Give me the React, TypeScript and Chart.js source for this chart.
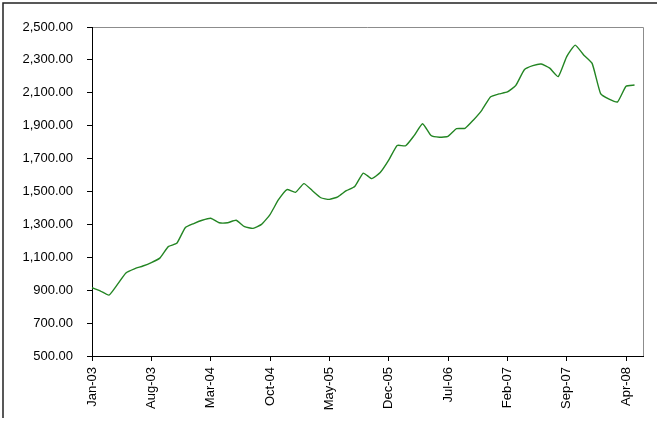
import React, { useEffect, useRef } from "react";
import { Chart, registerables } from "chart.js";

Chart.register(...registerables);

const MONTHS = ["Jan", "Feb", "Mar", "Apr", "May", "Jun", "Jul", "Aug", "Sep", "Oct", "Nov", "Dec"];
const YEARS = ["03", "04", "05", "06", "07", "08"];

// Month categories Jan-03 .. Jun-08 (axis extends one month past the data)
const categories: string[] = [];
YEARS.forEach((y) => MONTHS.forEach((m) => categories.push(`${m}-${y}`)));
const labels = categories.slice(0, 66);

// Monthly values Jan-03 .. May-08
const values: number[] = [
  915, 895, 870, 935, 1005, 1030, 1047, 1068, 1095, 1165, 1185, 1280,
  1305, 1325, 1337, 1310, 1310, 1325, 1286, 1276, 1300, 1360, 1450, 1512,
  1495, 1548, 1505, 1462, 1452, 1468, 1505, 1530, 1612, 1578, 1615, 1690,
  1780, 1778, 1840, 1912, 1840, 1830, 1835, 1882, 1884, 1935, 1995, 2075,
  2093, 2105, 2145, 2240, 2265, 2275, 2250, 2198, 2320, 2390, 2330, 2279,
  2095, 2062, 2045, 2140, 2147,
];

const yMin = 500;
const yMax = 2500;
const yStep = 200;
const labelEvery = 7;

const FONT = { family: "'Liberation Sans', Arial, sans-serif", size: 13 };

const framePlugin = {
  id: "frame",
  beforeDraw(chart: any) {
    const { ctx, width, height, chartArea } = chart;
    ctx.save();
    ctx.fillStyle = "#ffffff";
    ctx.fillRect(0, 0, width, height);
    // outer frame (top + left)
    ctx.strokeStyle = "#222222";
    ctx.lineWidth = 1.5;
    ctx.beginPath();
    ctx.moveTo(3, 418);
    ctx.lineTo(3, 3);
    ctx.lineTo(width, 3);
    ctx.stroke();
    // plot area frame (top + right), grey
    ctx.strokeStyle = "#8c8c8c";
    ctx.lineWidth = 1;
    ctx.beginPath();
    ctx.moveTo(chartArea.left, chartArea.top + 0.5);
    ctx.lineTo(chartArea.right + 0.5, chartArea.top + 0.5);
    ctx.lineTo(chartArea.right + 0.5, chartArea.bottom);
    ctx.stroke();
    ctx.restore();
  },
};

export default function App() {
  const ref = useRef<HTMLCanvasElement | null>(null);

  useEffect(() => {
    if (!ref.current) return;
    const chart = new Chart(ref.current, {
      type: "line",
      data: {
        labels,
        datasets: [
          {
            data: values,
            borderColor: "#238523",
            borderWidth: 1.4,
            pointRadius: 0,
            tension: 0.15,
            fill: false,
          },
        ],
      },
      options: {
        animation: false,
        responsive: true,
        maintainAspectRatio: false,
        layout: { padding: { left: 0, top: 27, right: 14, bottom: 0 } },
        plugins: {
          legend: { display: false },
          tooltip: { enabled: false },
        },
        scales: {
          x: {
            type: "category",
            offset: false,
            afterBuildTicks: (scale: any) => {
              scale.ticks = scale.ticks.filter((t: any) => t.value % labelEvery === 0);
            },
            afterFit: (scale: any) => {
              scale.height = 67;
            },
            ticks: {
              autoSkip: false,
              maxRotation: 90,
              minRotation: 90,
              padding: 6,
              color: "#000000",
              font: FONT,
              callback: function (this: any, value: any) {
                return this.getLabelForValue(value);
              },
            },
            grid: {
              display: true,
              drawOnChartArea: false,
              drawTicks: true,
              tickLength: 5,
              color: "#000000",
            },
            border: { display: true, color: "#000000", width: 1 },
          },
          y: {
            min: yMin,
            max: yMax,
            afterFit: (scale: any) => {
              scale.width = 92;
            },
            ticks: {
              stepSize: yStep,
              padding: 14,
              color: "#000000",
              font: FONT,
              callback: (v: any) =>
                Number(v).toLocaleString("en-US", {
                  minimumFractionDigits: 2,
                  maximumFractionDigits: 2,
                }),
            },
            grid: {
              display: true,
              drawOnChartArea: false,
              drawTicks: true,
              tickLength: 5,
              color: "#000000",
            },
            border: { display: true, color: "#000000", width: 1 },
          },
        },
      },
      plugins: [framePlugin],
    });
    return () => chart.destroy();
  }, []);

  return (
    <div style={{ position: "absolute", left: 0, top: 0, width: 657, height: 423, background: "#fff" }}>
      <canvas ref={ref} />
    </div>
  );
}
